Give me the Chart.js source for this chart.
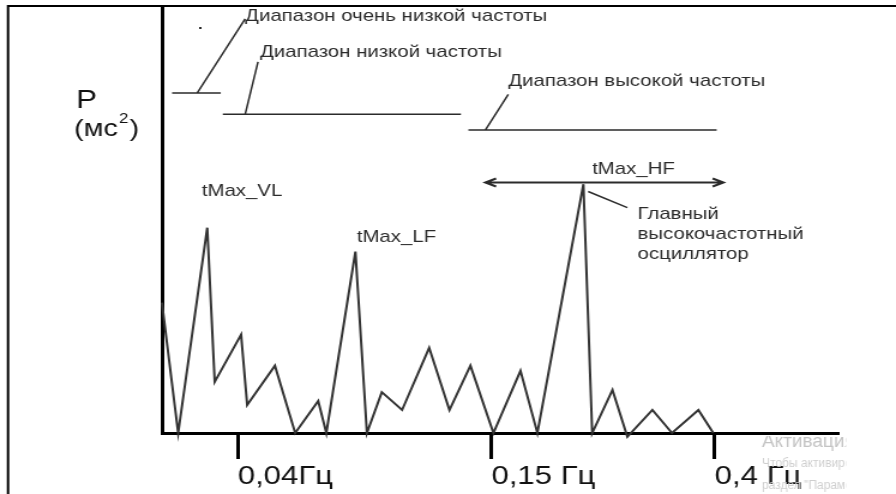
<!DOCTYPE html>
<html>
<head>
<meta charset="utf-8">
<script src="https://cdn.jsdelivr.net/npm/chart.js@4.4.0/dist/chart.umd.min.js"></script>
<style>
  html, body { margin: 0; padding: 0; background: #fff; overflow: hidden; }
  /* the drawing is made on a narrower canvas and widened to the page */
  #wrap { width: 747px; height: 494px; transform: scaleX(1.19946); transform-origin: 0 0; }
  #spectrum { display: block; }
</style>
</head>
<body>
<div id="wrap"><canvas id="spectrum" width="747" height="494"></canvas></div>
<script>
// Spectrum vertices: position along the frequency axis and power
const freqPos = [0, 2.4, 6.7, 7.8, 11.7, 12.6, 16.7, 19.7, 23.1, 24.3, 28.6, 30.3, 32.5, 35.5,
  39.5, 42.5, 45.6, 49.0, 53.0, 55.5, 62.3, 63.6, 66.6, 68.8, 72.5, 75.4, 79.3, 81.5];
const power = [30.6, 0, 48.2, 12, 23.1, 6.6, 15.8, 0, 7.5, 0, 42.6, 0, 9.6, 5.4,
  20, 5.4, 15.8, 0, 14.6, 0, 58.4, 0, 10.1, -0.9, 5.4, 0, 5.4, 0];

// Band borders on the frequency axis
const tickPos = [11.2, 48.7, 81.7];
const tickLabels = ["0,04Гц", "0,15 Гц", "0,4 Гц"];

const FONT = '"Liberation Sans", Arial, sans-serif';
const INK = "#2b2b2b";
const STRETCH = 896 / 747;

// Band brackets with their callouts (axis units)
const bandNotes = [
  { text: "Диапазон очень низкой частоты", from: 1.5, to: 8.7, level: 79.8, foot: 5.2, top: [12.3, 97.2], label: [12.3, 97.9] },
  { text: "Диапазон низкой частоты", from: 9.0, to: 44.2, level: 74.8, foot: 12.3, top: [14.2, 87.1], label: [14.5, 89.4] },
  { text: "Диапазон высокой частоты", from: 45.3, to: 82.0, level: 71.1, foot: 47.8, top: [51.2, 79.5], label: [51.2, 82.6] }
];

const peakNotes = [
  { text: "tMax_VL", x: 5.9, y: 56.7, align: "left" },
  { text: "tMax_LF", x: 28.8, y: 45.9, align: "left" },
  { text: "tMax_HF", x: 69.7, y: 61.9, align: "center" }
];

const oscNote = ["Главный", "высокочастотный", "осциллятор"];

const framePlugin = {
  id: "frame",
  afterDraw(chart) {
    const ctx = chart.ctx;
    ctx.save();
    ctx.strokeStyle = "#000";
    ctx.lineWidth = 2;
    ctx.beginPath();
    ctx.moveTo(chart.width, 6);
    ctx.lineTo(6.7, 6);
    ctx.lineTo(6.7, 494);
    ctx.stroke();

    // y axis caption
    ctx.fillStyle = "#111";
    ctx.textBaseline = "middle";
    ctx.textAlign = "left";
    ctx.font = "26px " + FONT;
    ctx.fillText("P", 63.4, 101);
    ctx.font = "24px " + FONT;
    let cx = 61.7;
    ctx.fillText("(мс", cx, 129);
    cx += ctx.measureText("(мс").width;
    ctx.font = "14px " + FONT;
    ctx.fillText("2", cx + 1, 119);
    cx += ctx.measureText("2").width + 2;
    ctx.font = "24px " + FONT;
    ctx.fillText(")", cx, 129);

    // system watermark in the corner, drawn unstretched
    ctx.translate(762 / STRETCH, 0);
    ctx.scale(1 / STRETCH, 1);
    ctx.beginPath();
    ctx.rect(-2, 436, 86, 58);
    ctx.clip();
    ctx.fillStyle = "#c4c4c4";
    ctx.font = "19px " + FONT;
    ctx.fillText("Активация Windows", 0, 442);
    ctx.fillStyle = "#cfcfcf";
    ctx.font = "12px " + FONT;
    ctx.fillText("Чтобы активировать Windows, перейдите в", 0, 464);
    ctx.fillText("раздел \"Параметры\".", 0, 486);
    ctx.restore();
  }
};

const notesPlugin = {
  id: "notes",
  afterDatasetsDraw(chart) {
    const { ctx, scales: { x, y } } = chart;
    const px = v => x.getPixelForValue(v);
    const py = v => y.getPixelForValue(v);
    ctx.save();
    ctx.strokeStyle = INK;
    ctx.fillStyle = INK;
    ctx.lineWidth = 1.5;
    ctx.textBaseline = "middle";

    bandNotes.forEach(b => {
      ctx.beginPath();
      ctx.moveTo(px(b.from), py(b.level));
      ctx.lineTo(px(b.to), py(b.level));
      ctx.moveTo(px(b.foot), py(b.level));
      ctx.lineTo(px(b.top[0]), py(b.top[1]));
      ctx.stroke();
      ctx.font = "17px " + FONT;
      ctx.textAlign = "left";
      ctx.fillText(b.text, px(b.label[0]), py(b.label[1]));
    });

    // stray dot under the first caption
    ctx.fillRect(166, 27, 2, 2);

    peakNotes.forEach(p => {
      ctx.font = "17px " + FONT;
      ctx.textAlign = p.align;
      ctx.fillText(p.text, px(p.x), py(p.y));
    });

    // double-headed arrow over the HF band
    const ax0 = px(47.8), ax1 = px(83.0), ay = py(58.8);
    ctx.lineWidth = 2;
    ctx.beginPath();
    ctx.moveTo(ax0, ay);
    ctx.lineTo(ax1, ay);
    ctx.moveTo(ax0 + 9, ay - 4);
    ctx.lineTo(ax0, ay);
    ctx.lineTo(ax0 + 9, ay + 4);
    ctx.moveTo(ax1 - 9, ay - 4);
    ctx.lineTo(ax1, ay);
    ctx.lineTo(ax1 - 9, ay + 4);
    ctx.stroke();

    // callout for the main HF oscillator
    ctx.lineWidth = 1.5;
    ctx.beginPath();
    ctx.moveTo(px(63.0), py(56.7));
    ctx.lineTo(px(68.8), py(52.9));
    ctx.stroke();
    ctx.font = "17px " + FONT;
    ctx.textAlign = "left";
    oscNote.forEach((line, i) => {
      ctx.fillText(line, px(70.3), py(51.3 - i * 4.7));
    });
    ctx.restore();
  }
};

new Chart(document.getElementById("spectrum"), {
  type: "line",
  data: {
    datasets: [{
      data: freqPos.map((f, i) => ({ x: f, y: power[i] })),
      borderColor: "#333",
      borderWidth: 2,
      pointRadius: 0,
      tension: 0,
      clip: false
    }]
  },
  options: {
    responsive: false,
    animation: false,
    devicePixelRatio: 1,
    layout: { padding: { left: 135, right: 48, top: 7, bottom: 0 } },
    plugins: {
      legend: { display: false },
      tooltip: { enabled: false }
    },
    scales: {
      x: {
        type: "linear",
        min: 0,
        max: 100,
        border: { display: true, color: "#000", width: 3 },
        grid: {
          drawOnChartArea: false,
          drawTicks: true,
          tickLength: 26,
          tickWidth: 3,
          tickColor: "#000"
        },
        ticks: {
          autoSkip: false,
          maxRotation: 0,
          align: "start",
          padding: 2,
          color: "#111",
          font: { family: FONT, size: 26 },
          callback: (v, i) => tickLabels[i]
        },
        afterBuildTicks: s => { s.ticks = tickPos.map(v => ({ value: v })); },
        afterFit: s => { s.height = 61; }
      },
      y: {
        min: 0,
        max: 100,
        border: { display: true, color: "#000", width: 3 },
        grid: { display: false },
        ticks: { display: false },
        afterFit: s => { s.width = 0; }
      }
    }
  },
  plugins: [framePlugin, notesPlugin]
});
</script>
</body>
</html>
